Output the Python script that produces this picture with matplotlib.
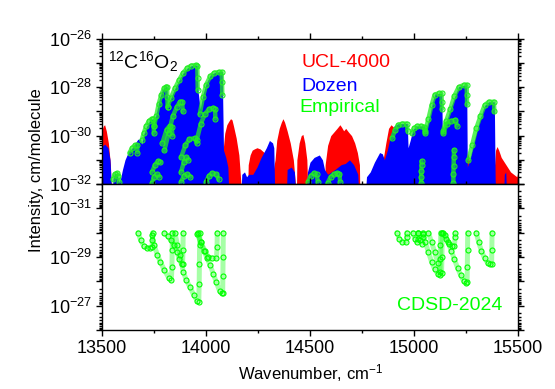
import numpy as np
import matplotlib
matplotlib.use('Agg')
import matplotlib.pyplot as plt
from matplotlib.ticker import LogLocator, NullFormatter, FuncFormatter, MultipleLocator

plt.rcParams['font.family'] = ['Liberation Sans', 'DejaVu Sans']
plt.rcParams['mathtext.fontset'] = 'custom'
plt.rcParams['mathtext.rm'] = 'Liberation Sans'
plt.rcParams['mathtext.it'] = 'Liberation Sans:italic'
plt.rcParams['mathtext.bf'] = 'Liberation Sans:bold'

# envelopes: wavenumber (cm-1) and log10 intensity
ucl_wn = [13500, 13506, 13512, 13520, 13530, 13540, 13546, 13600, 13605, 14075,
          14080, 14090, 14100, 14110, 14118, 14125, 14132, 14145, 14158, 14168,
          14172, 14198, 14203, 14212, 14222, 14232, 14245, 14260, 14280, 14300,
          14322, 14332, 14340, 14352, 14362, 14370, 14378, 14390, 14405, 14420,
          14430, 14434, 14437, 14448, 14458, 14466, 14475, 14485, 14492, 14568,
          14573, 14585, 14600, 14615, 14630, 14644, 14652, 14662, 14672, 14685,
          14700, 14715, 14728, 14738, 14741, 14800, 14820, 14850, 14865, 14878,
          14890, 14902, 14915, 14925, 15255, 15258, 15264, 15270, 15388, 15393,
          15400, 15408, 15420, 15435, 15450, 15465, 15480, 15495, 15500]
ucl_lg = [-29.75, -29.6, -29.55, -29.8, -30.3, -31.2, -33.0, -33.0, -31.5, -31.5,
          -30.8, -29.9, -29.55, -29.4, -29.3, -29.35, -29.6, -30.1, -30.8, -32.0,
          -33.0, -33.0, -31.2, -30.8, -30.6, -30.55, -30.5, -30.55, -30.7, -31.0,
          -31.5, -31.0, -30.2, -29.7, -29.45, -29.3, -29.45, -29.8, -30.3, -31.0,
          -32.0, -33.0, -31.0, -30.3, -30.0, -29.95, -30.3, -31.0, -33.0, -33.0,
          -31.2, -30.4, -30.0, -29.85, -29.7, -29.55, -29.65, -29.8, -29.7, -29.85,
          -30.0, -30.3, -30.7, -31.2, -33.0, -33.0, -31.5, -31.1, -30.3, -29.7,
          -29.55, -29.65, -30.2, -31.0, -31.0, -30.7, -30.9, -31.2, -31.2, -30.6,
          -30.45, -30.6, -30.9, -31.1, -31.3, -31.5, -31.6, -31.7, -31.5]

dozen_wn = [13500, 13512, 13528, 13538, 13545, 13549, 13552, 13560, 13572, 13580,
            13588, 13598, 13610, 13625, 13645, 13660, 13672, 13685, 13690, 13700,
            13715, 13730, 13745, 13749, 13760, 13775, 13790, 13805, 13812, 13815,
            13830, 13850, 13870, 13890, 13910, 13930, 13957, 13962, 13972, 13985,
            14000, 14020, 14043, 14078, 14081, 14084, 14095, 14105, 14112, 14165,
            14172, 14185, 14195, 14205, 14225, 14245, 14265, 14290, 14305, 14320,
            14326, 14332, 14385, 14390, 14410, 14425, 14435, 14480, 14488, 14500,
            14520, 14545, 14560, 14570, 14585, 14620, 14650, 14670, 14690, 14710,
            14730, 14738, 14762, 14772, 14790, 14810, 14835, 14848, 14858, 14872,
            14890, 14905, 14925, 14968, 14972, 14982, 14995, 15010, 15050, 15056,
            15075, 15090, 15101, 15134, 15137, 15150, 15175, 15200, 15215, 15254,
            15257, 15268, 15290, 15315, 15340, 15360, 15387, 15391, 15398, 15430,
            15435, 15442, 15448, 15500]
dozen_lg = [-30.45, -30.35, -30.5, -31.0, -32.2, -33.0, -31.8, -31.55, -31.6, -31.9,
            -31.8, -31.4, -31.0, -30.7, -30.5, -30.3, -30.15, -30.15, -30.35, -29.95,
            -29.6, -29.35, -29.3, -29.55, -29.1, -28.5, -28.1, -27.97, -27.95, -28.7,
            -28.45, -28.05, -27.7, -27.4, -27.2, -27.1, -27.08, -28.2, -28.9, -28.3,
            -27.85, -27.5, -27.38, -27.35, -29.0, -30.6, -30.9, -31.3, -33.0, -33.0,
            -31.6, -31.5, -31.7, -31.6, -31.6, -31.3, -30.9, -30.5, -30.2, -30.3,
            -30.5, -33.0, -33.0, -31.4, -31.3, -31.5, -33.0, -33.0, -31.5, -31.1,
            -30.9, -30.8, -31.0, -31.4, -31.6, -31.4, -31.2, -31.15, -31.0, -31.2,
            -31.6, -33.0, -33.0, -31.7, -31.5, -31.1, -30.7, -30.75, -31.0, -30.6,
            -29.9, -29.6, -29.5, -29.5, -30.5, -30.2, -29.75, -29.6, -29.6, -29.8,
            -29.2, -28.6, -28.27, -28.25, -29.9, -29.6, -28.9, -28.3, -27.97, -27.9,
            -31.3, -31.0, -30.2, -29.4, -28.75, -28.6, -28.6, -31.8, -33.0, -33.0,
            -31.6, -31.5, -33.0, -33.0]

# empirical line positions, one list of (wavenumber, log10 intensity) per band
emp_bands = [
    [(13553, -31.8), (13560, -31.6), (13570, -31.55), (13578, -31.65), (13582, -31.9)],
    [(13632, -30.7), (13645, -30.5), (13658, -30.4), (13668, -30.4), (13670, -30.7)],
    [(13690, -30.2), (13700, -29.9), (13712, -29.6), (13725, -29.4), (13738, -29.3),
     (13746, -29.3), (13748, -29.6), (13749, -29.9)],
    [(13750, -29.6), (13760, -29.2), (13772, -28.7), (13785, -28.3), (13798, -28.05),
     (13808, -27.97), (13813, -28.0), (13814, -28.4), (13815, -28.8)],
    [(13815, -28.8), (13830, -28.45), (13850, -28.05), (13870, -27.7), (13890, -27.4),
     (13910, -27.2), (13930, -27.1), (13950, -27.08), (13958, -27.1), (13959, -27.6),
     (13960, -28.1)],
    [(13970, -29.1), (13985, -28.4), (14000, -27.9), (14020, -27.55), (14040, -27.4),
     (14060, -27.37), (14075, -27.37), (14077, -27.8), (14078, -28.3)],
    [(13790, -30.3), (13810, -29.75), (13825, -29.6), (13835, -29.65), (13838, -30.0)],
    [(13800, -30.6), (13820, -29.9), (13840, -29.2), (13860, -28.8), (13875, -28.6),
     (13885, -28.6), (13888, -29.0)],
    [(13955, -30.2), (13975, -29.5), (13995, -29.1), (14015, -28.9), (14035, -28.85),
     (14043, -28.9), (14045, -29.3)],
    [(13880, -30.9), (13900, -30.4), (13920, -30.15), (13945, -30.1), (13955, -30.3)],
    [(13740, -31.5), (13755, -31.2), (13770, -31.05), (13780, -31.1)],
    [(13880, -31.5), (13893, -31.1), (13905, -30.9), (13915, -31.0)],
    [(13740, -31.95), (13750, -31.7), (13762, -31.6), (13775, -31.7)],
    [(13880, -31.9), (13895, -31.65), (13910, -31.6), (13925, -31.7)],
    [(14000, -31.9), (14015, -31.65), (14030, -31.55), (14050, -31.6), (14060, -31.8)],
    [(14490, -31.9), (14505, -31.65), (14520, -31.55), (14532, -31.6), (14538, -31.9)],
    [(14585, -31.95), (14600, -31.7), (14615, -31.6), (14630, -31.55), (14642, -31.6),
     (14645, -31.9)],
    [(14895, -30.1), (14910, -29.75), (14925, -29.55), (14945, -29.5), (14965, -29.5),
     (14970, -29.8)],
    [(14990, -29.9), (15000, -29.7), (15015, -29.6), (15035, -29.6), (15050, -29.65),
     (15053, -29.9)],
    [(15055, -29.8), (15070, -29.3), (15085, -28.75), (15100, -28.3), (15120, -28.25),
     (15133, -28.25), (15134, -28.6), (15135, -28.9)],
    [(15140, -29.8), (15155, -29.4), (15175, -28.9), (15195, -28.35), (15215, -28.0),
     (15240, -27.9), (15254, -27.9), (15255, -28.3), (15256, -28.7)],
    [(15262, -31.0), (15280, -30.4), (15300, -29.7), (15320, -29.2), (15340, -28.75),
     (15360, -28.6), (15385, -28.6), (15387, -29.0)],
    [(15140, -29.9), (15160, -29.5), (15180, -29.4), (15200, -29.35), (15207, -29.6)],
    [(15035, -31.95), (15035, -31.7), (15036, -31.45), (15037, -31.2), (15037, -31.05)],
    [(15190, -31.95), (15190, -31.6), (15191, -31.25), (15192, -30.9), (15193, -30.6)],
]

# CDSD-2024 bands
cdsd_bands = [
    [(13673, -30.0), (13685, -29.7), (13700, -29.45), (13715, -29.38), (13730, -29.38),
     (13740, -29.4), (13742, -29.7), (13743, -30.0)],
    [(13740, -29.9), (13750, -29.5), (13765, -29.1), (13780, -28.8), (13800, -28.45),
     (13820, -28.15), (13833, -28.05), (13836, -28.6), (13837, -29.3), (13838, -30.0)],
    [(13800, -30.0), (13815, -29.85), (13830, -29.7), (13845, -29.5), (13860, -29.2),
     (13872, -28.9), (13882, -28.7), (13887, -28.7), (13889, -29.3), (13890, -30.0)],
    [(13850, -30.0), (13862, -29.5), (13875, -29.1), (13890, -28.4), (13905, -28.05),
     (13923, -27.75), (13940, -27.45), (13957, -27.2), (13965, -27.15), (13967, -27.9),
     (13968, -28.7), (13969, -29.5), (13970, -30.0)],
    [(13957, -29.95), (13975, -29.6), (13995, -29.25), (14010, -29.0), (14030, -28.95),
     (14050, -28.95), (14053, -29.4), (14054, -30.0)],
    [(13960, -30.0), (13975, -29.6), (13990, -29.25), (14005, -28.95), (14020, -28.65),
     (14035, -28.3), (14050, -27.95), (14065, -27.6), (14075, -27.5), (14080, -27.5),
     (14081, -28.2), (14082, -29.0), (14083, -30.0)],
    [(14918, -30.0), (14930, -29.75), (14945, -29.6), (14960, -29.6), (14965, -29.8),
     (14966, -30.0)],
    [(14995, -30.0), (15005, -29.75), (15015, -29.6), (15020, -29.75), (15022, -30.0)],
    [(15020, -30.0), (15030, -29.7), (15040, -29.55), (15043, -29.8), (15044, -30.0)],
    [(15043, -29.95), (15055, -29.6), (15070, -29.2), (15085, -28.8), (15100, -28.5),
     (15115, -28.3), (15125, -28.25), (15127, -28.9), (15128, -29.5), (15129, -30.0)],
    [(15070, -30.0), (15085, -29.6), (15100, -29.2), (15115, -28.75), (15128, -28.4),
     (15133, -28.35), (15135, -29.0), (15136, -30.0)],
    [(15140, -30.0), (15155, -29.75), (15170, -29.55), (15185, -29.45), (15195, -29.45),
     (15198, -29.8), (15199, -30.0)],
    [(15150, -29.9), (15165, -29.6), (15180, -29.25), (15195, -28.9), (15210, -28.55),
     (15225, -28.25), (15240, -28.0), (15252, -27.93), (15256, -27.95), (15257, -28.6),
     (15258, -29.3), (15259, -30.0)],
    [(15300, -30.0), (15312, -29.6), (15325, -29.25), (15340, -28.95), (15355, -28.75),
     (15368, -28.7), (15374, -28.7), (15375, -29.3), (15376, -30.0)],
]

green = '#00ff00'


def draw_bands(ax, bands, color, line_alpha, lw):
    for band in bands:
        wn, lg = np.array(band).T
        ax.plot(wn, 10.0 ** lg, color=color, lw=lw, alpha=line_alpha,
                solid_capstyle='round', solid_joinstyle='round', zorder=3)
        ax.plot(wn, 10.0 ** lg, ls='none', marker='o', ms=3.6, mfc='none',
                mec=color, mew=0.8, zorder=4)


def exp_formatter(keep):
    def fmt(v, pos):
        e = int(round(np.log10(v)))
        return r'$10^{%d}$' % e if e in keep else ''
    return FuncFormatter(fmt)


def style_axis(ax, keep):
    ax.set_yscale('log')
    ax.set_xlim(13500, 15500)
    ax.xaxis.set_major_locator(MultipleLocator(500))
    ax.xaxis.set_minor_locator(MultipleLocator(250))
    ax.yaxis.set_major_locator(LogLocator(base=10, numticks=20))
    ax.yaxis.set_minor_locator(LogLocator(base=10, subs=np.arange(2, 10), numticks=20))
    ax.yaxis.set_major_formatter(exp_formatter(keep))
    ax.yaxis.set_minor_formatter(NullFormatter())
    ax.tick_params(which='both', direction='out', top=True, right=True,
                   labelsize=13, width=1.0)
    ax.tick_params(which='major', length=4)
    ax.tick_params(which='minor', length=2.5)
    for sp in ax.spines.values():
        sp.set_linewidth(1.0)


fig = plt.figure(figsize=(5.55, 3.89), dpi=100)
ax1 = fig.add_axes([0.184, 0.527, 0.749, 0.373])
ax2 = fig.add_axes([0.184, 0.152, 0.749, 0.375])

ax1.fill_between(ucl_wn, 10.0 ** np.array(ucl_lg), 1e-33, color='red', lw=0, zorder=1)
ax1.fill_between(dozen_wn, 10.0 ** np.array(dozen_lg), 1e-33, color='blue', lw=0, zorder=2)
draw_bands(ax1, emp_bands, '#22ee22', 0.75, 3.2)
style_axis(ax1, (-26, -28, -30, -32))
ax1.set_ylim(1e-32, 1e-26)
ax1.tick_params(labelbottom=False)

draw_bands(ax2, cdsd_bands, green, 0.35, 3.6)
style_axis(ax2, (-31, -29, -27))
ax2.set_ylim(1e-26, 1e-32)

ax1.text(0.013, 0.93, r'$^{12}$C$^{16}$O$_2$', transform=ax1.transAxes,
         fontsize=14, va='top', ha='left')
ax1.text(0.48, 0.84, 'UCL-4000', color='red', transform=ax1.transAxes,
         fontsize=14, va='center')
ax1.text(0.48, 0.675, 'Dozen', color='blue', transform=ax1.transAxes,
         fontsize=14, va='center')
ax1.text(0.475, 0.53, 'Empirical', color=green, transform=ax1.transAxes,
         fontsize=14, va='center')
ax2.text(0.709, 0.165, 'CDSD-2024', color=green, transform=ax2.transAxes,
         fontsize=14, va='center')

fig.text(0.065, 0.563, 'Intensity, cm/molecule', rotation=90, fontsize=12,
         va='center', ha='center')
fig.text(0.559, 0.012, r'Wavenumber, cm$^{-1}$', fontsize=12, va='bottom', ha='center')

fig.savefig('out.png', dpi=100)
